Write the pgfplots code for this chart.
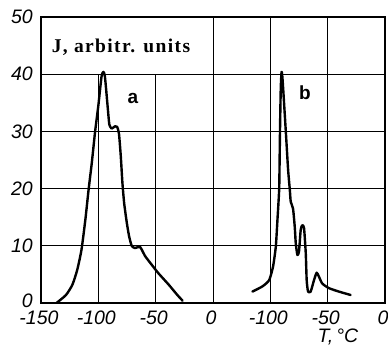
\documentclass[border=0pt]{standalone}
\usepackage{pgfplots}
\usepackage{pgfplotstable}
\pgfplotsset{compat=1.18}
\usepackage{fontspec}
\setmainfont{Liberation Serif}
\setsansfont{Liberation Sans}
\newfontfamily\tickfont{Liberation Sans}

\pgfplotstableread{
T J
-136.5 0
-128.2 1.4
-122.6 3.2
-118.4 5.8
-114.7 9.3
-111.3 14.6
-108.5 19.8
-105.7 24.5
-102.8 30
-100 34.5
-97.2 39.6
-95.6 40.4
-94.4 39.8
-93.4 37.8
-91.6 33.7
-90.4 31.2
-88.4 30.5
-85.4 30.9
-83.6 30.8
-82 29.6
-80.4 25.6
-79 21
-77.5 17.5
-75.3 14.2
-73.2 11.7
-70.9 10
-68 9.6
-63.6 9.8
-59.2 8.2
-53.5 6.7
-47.6 5.2
-38.6 3.2
-31.1 1.4
-26.5 0.4
}\curvea

\pgfplotstableread{
T J
-115.6 2
-106.9 2.9
-101 4
-97.6 6.4
-95.2 9.9
-93.8 14.5
-92.3 19.8
-91.9 25
-91.5 31
-90.9 37.5
-90.2 40.4
-89.3 39
-86.5 30
-84.5 23.3
-83 19.8
-82.2 17.7
-80.2 16.5
-78.7 13.3
-77.8 10.4
-76.4 8.4
-75 9
-73.5 12.8
-72.1 13.6
-70.6 13.1
-69.1 8.7
-68.3 4
-67.1 2
-64.8 2
-61.9 4
-59.6 5.3
-57.6 4.6
-54.7 3.4
-48.9 2.6
-40.3 2
-30 1.4
}\curveb

\begin{document}
\begin{tikzpicture}
\begin{axis}[
  scale only axis, width=344pt, height=286pt,
  xmin=0, xmax=6, ymin=0, ymax=50,
  xtick={0,1,2,3,4,5,6},
  xticklabels={-150,-100,-50,0,-100,-50,0},
  ytick={0,10,20,30,40,50},
  yticklabels={\raisebox{4pt}{0},10,20,30,40,50},
  major tick length=0pt,
  ymajorgrids,
  grid style={black, line width=0.9pt},
  axis line style={black, line width=1.1pt},
  tick label style={font=\tickfont\itshape\fontsize{19.5}{19.5}\selectfont},
  yticklabel style={inner sep=0pt, xshift=-8pt},
  xticklabel style={inner sep=0pt, yshift=-8pt, xshift=-2pt},
  clip=false,
]
\coordinate (O) at (axis cs:0,0);
% vertical grid lines
\draw[black, line width=0.9pt] (axis cs:1,0) -- (axis cs:1,40);
\draw[black, line width=0.9pt] (axis cs:2,0) -- (axis cs:2,40);
\draw[black, line width=0.9pt] (axis cs:3,0) -- (axis cs:3,50);
\draw[black, line width=0.9pt] (axis cs:4,0) -- (axis cs:4,50);
\draw[black, line width=0.9pt] (axis cs:5,0) -- (axis cs:5,50);
\draw[black, line width=1.6pt] (axis cs:2,39) -- (axis cs:2,32);
\draw[black, line width=1.6pt] (axis cs:5,38.5) -- (axis cs:5,33);
% heavier left and bottom axis lines
\draw[black, line width=2pt] (axis cs:0,50) -- (axis cs:0,0) -- (axis cs:6,0);
\addplot[black, line width=2.4pt, smooth, tension=0.35, line join=round, line cap=round]
  table[x expr=\thisrow{T}/50+3, y=J] {\curvea};
\addplot[black, line width=2.4pt, smooth, tension=0.35, line join=round, line cap=round]
  table[x expr=\thisrow{T}/50+6, y=J] {\curveb};
\end{axis}
\begin{scope}[shift={(O)}, x=1pt, y=1pt]
\node at (80,256) {\fontsize{19.5}{19.5}\selectfont\bfseries\addfontfeature{LetterSpace=7}J, arbitr. units};
\node at (92,205) {\sffamily\bfseries\fontsize{19}{19}\selectfont a};
\node at (264,210) {\sffamily\bfseries\fontsize{19}{19}\selectfont b};
\node at (297,-34) {\tickfont\itshape\fontsize{19.5}{19.5}\selectfont T,\,°C};
\pgfresetboundingbox
\path[use as bounding box] (-41,-44) rectangle (347,303);
\end{scope}
\end{tikzpicture}
\end{document}
